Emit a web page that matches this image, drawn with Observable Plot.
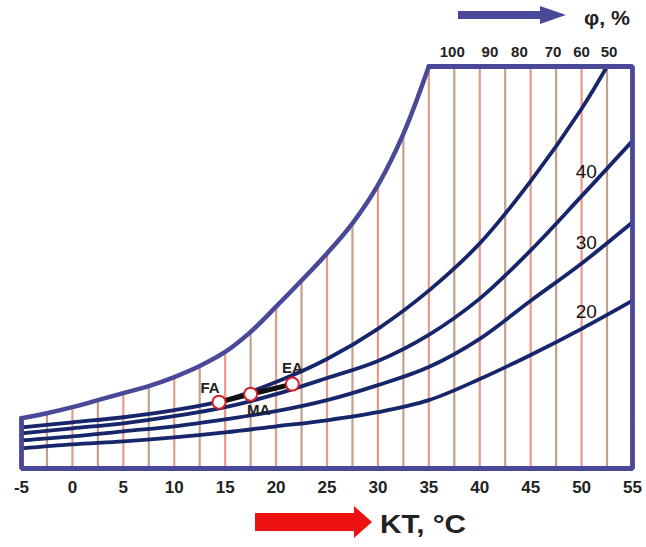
<!DOCTYPE html>
<html><head><meta charset="utf-8">
<script src="https://cdn.jsdelivr.net/npm/d3@7"></script>
<script src="https://cdn.jsdelivr.net/npm/@observablehq/plot@0.6"></script>
<style>
body{margin:0;background:#fff;}
#chart svg{display:block;}
</style>
</head><body><div id="chart"></div>
<script>
// Temperature axis (KT, °C)
const tempTicks = [-5, 0, 5, 10, 15, 20, 25, 30, 35, 40, 45, 50, 55];
const gridT = [-2.5, 0, 2.5, 5, 7.5, 10, 12.5, 15, 17.5, 20, 22.5, 25, 27.5, 30, 32.5, 35,
               37.5, 40, 42.5, 45, 47.5, 50, 52.5];
// Relative humidity labels along the top edge
const phiLabels = ["100", "90", "80", "70", "60", "50"];
const phiLabelT = [37.3, 41.0, 43.9, 47.2, 50.0, 52.7];

// Saturation (100 %) curve – upper boundary of the chart (vertical unit: moisture content)
const satT = [-5, -2.5, 0, 2.5, 5, 7.5, 10, 12.5, 15, 17.5, 20, 22.5, 25, 27.5, 30, 32.5, 35];
const satV = [5.0, 5.5, 6.1, 6.8, 7.5, 8.2, 9.1, 10.2, 11.6, 13.6, 16.1, 18.7, 21.4, 24.4, 28.2, 33.3, 40.0];

// Relative humidity curves
const rh50T = [-5, 0, 5, 10, 15, 20, 25, 30, 35, 40, 45, 50, 52.5];
const rh50V = [4.1, 4.6, 5.1, 5.8, 6.8, 8.6, 10.9, 13.9, 17.7, 22.4, 28.6, 35.8, 40.0];
const rhT = [-5, 0, 5, 10, 15, 20, 25, 30, 35, 40, 45, 50, 55];
const rh40V = [3.5, 4.0, 4.5, 5.2, 6.1, 7.4, 9.0, 10.7, 13.3, 16.9, 21.7, 27.1, 32.6];
const rh30V = [2.8, 3.2, 3.7, 4.2, 4.9, 5.7, 6.8, 8.3, 10.1, 12.9, 16.7, 20.4, 24.5];
const rh20V = [2.0, 2.4, 2.7, 3.1, 3.6, 4.2, 4.8, 5.6, 6.8, 8.9, 11.3, 13.9, 16.7];
const curveLabels = ["40", "30", "20"];

// Process points
const pointNames = ["FA", "MA", "EA"];
const pointT = [14.4, 17.5, 21.6];
const pointV = [6.6, 7.4, 8.4];

const yMax = 40;

function interp(ts, vs, t) {
  if (t <= ts[0]) return vs[0];
  for (let i = 1; i < ts.length; i++) {
    if (t <= ts[i]) {
      const f = (t - ts[i - 1]) / (ts[i] - ts[i - 1]);
      return vs[i - 1] + f * (vs[i] - vs[i - 1]);
    }
  }
  return vs[vs.length - 1];
}

const sat = satT.map((t, i) => ({t, v: satV[i]}));
const grid = gridT.map((t, i) => ({
  t,
  top: t <= satT[satT.length - 1] ? interp(satT, satV, t) : yMax,
  major: t % 5 === 0
}));
const frameLine = [
  {t: satT[0], v: satV[0]}, {t: -5, v: 0}, {t: 55, v: 0}, {t: 55, v: yMax}, {t: satT[satT.length - 1], v: yMax}
];
const curves = [
  {name: "50", ts: rh50T, vs: rh50V},
  {name: "40", ts: rhT, vs: rh40V},
  {name: "30", ts: rhT, vs: rh30V},
  {name: "20", ts: rhT, vs: rh20V}
].flatMap(c => c.ts.map((t, i) => ({name: c.name, t, v: c.vs[i]})));
const labelT = 51.5;
const curveLabelData = curveLabels.map(n => {
  const v = n === "40" ? interp(rhT, rh40V, labelT) : n === "30" ? interp(rhT, rh30V, labelT) : interp(rhT, rh20V, labelT);
  return {name: n, t: labelT, v};
});
const points = pointNames.map((n, i) => ({name: n, t: pointT[i], v: pointV[i]}));

const frameColor = "#4a4898";
const curveColor = "#17266b";
const font = "'Liberation Sans', Arial, sans-serif";

const plot = Plot.plot({
  width: 646,
  height: 547,
  marginLeft: 21,
  marginRight: 14,
  marginTop: 66,
  marginBottom: 79,
  x: {domain: [-5, 55], axis: null},
  y: {domain: [0, yMax], axis: null},
  style: {background: "#fff", fontFamily: font},
  marks: [
    Plot.ruleX(grid, {x: "t", y1: 0, y2: "top", stroke: d => d.major ? "#e89a8a" : "#c4a08c", strokeWidth: 2.2}),
    Plot.line(curves, {x: "t", y: "v", z: "name", stroke: curveColor, strokeWidth: 3.8, curve: "catmull-rom"}),
    Plot.line(sat, {x: "t", y: "v", stroke: frameColor, strokeWidth: 4.5, curve: "catmull-rom"}),
    Plot.line(frameLine, {x: "t", y: "v", stroke: frameColor, strokeWidth: 4.8, strokeLinejoin: "miter"}),
    Plot.line(points, {x: "t", y: "v", stroke: "#111", strokeWidth: 5}),
    Plot.dot(points, {x: "t", y: "v", r: 6.5, fill: "#fff", stroke: "#d8202a", strokeWidth: 2}),
    Plot.text(points.filter(d => d.name === "FA"), {x: "t", y: "v", text: "name", dx: -9, dy: -14, fontSize: 15, fontWeight: "bold", fill: "#222"}),
    Plot.text(points.filter(d => d.name === "MA"), {x: "t", y: "v", text: "name", dx: 8, dy: 16, fontSize: 15, fontWeight: "bold", fill: "#222"}),
    Plot.text(points.filter(d => d.name === "EA"), {x: "t", y: "v", text: "name", dx: 0, dy: -16, fontSize: 15, fontWeight: "bold", fill: "#222"}),
    Plot.text(curveLabelData, {x: "t", y: "v", text: "name", textAnchor: "end", dx: 0, dy: -8, fontSize: 19, fill: "#111"}),
    Plot.text(tempTicks, {x: d => d, frameAnchor: "bottom", dy: 24, text: d => String(d), fontSize: 17, fontWeight: "bold", fill: "#222"}),
    Plot.text(phiLabels, {x: (d, i) => phiLabelT[i], frameAnchor: "top", dy: -20, text: d => d, fontSize: 15, fontWeight: "bold", fill: "#222"})
  ]
});

const svg = d3.select(plot);
// Top arrow (φ direction)
svg.append("path")
  .attr("d", "M458,11 L540,11 L540,6 L566,15 L540,24 L540,19 L458,19 Z")
  .attr("fill", frameColor);
svg.append("text").attr("x", 584).attr("y", 25).attr("text-anchor", "start")
  .attr("font-family", font).attr("font-weight", "bold").attr("font-size", 20).attr("fill", "#222")
  .attr("textLength", 46).attr("lengthAdjust", "spacingAndGlyphs")
  .text("φ, %");
// Bottom arrow (temperature direction)
svg.append("path")
  .attr("d", "M255,513 L354,513 L354,506 L372,522 L354,538 L354,531 L255,531 Z")
  .attr("fill", "#ee1111");
svg.append("text").attr("x", 380).attr("y", 533).attr("text-anchor", "start")
  .attr("font-family", font).attr("font-weight", "bold").attr("font-size", 25).attr("fill", "#222")
  .attr("textLength", 86).attr("lengthAdjust", "spacingAndGlyphs")
  .text("KT, °C");

document.getElementById("chart").appendChild(plot);
</script>
</body></html>
